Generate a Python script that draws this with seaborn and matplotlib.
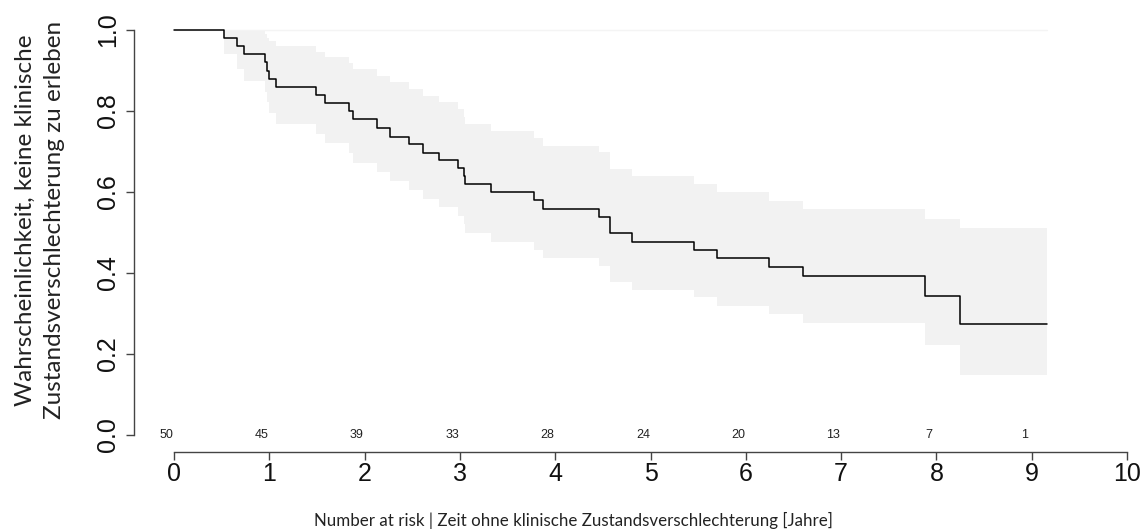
import pandas as pd
import seaborn as sns
import matplotlib.pyplot as plt

# Kaplan-Meier estimate (step after each time)
times = [0, 0.52, 0.66, 0.73, 0.955, 0.98, 1.00, 1.07, 1.49, 1.585, 1.84, 1.88,
         2.13, 2.27, 2.47, 2.61, 2.78, 2.98, 3.04, 3.05, 3.33, 3.78, 3.875, 4.46,
         4.57, 4.81, 5.46, 5.70, 6.24, 6.60, 7.88, 8.25, 9.16]
surv = [1.0, 0.98, 0.96, 0.94, 0.92, 0.90, 0.88, 0.86, 0.84, 0.82, 0.80, 0.78,
        0.757, 0.737, 0.718, 0.697, 0.679, 0.66, 0.64, 0.62, 0.60, 0.58, 0.558, 0.539,
        0.499, 0.477, 0.458, 0.436, 0.415, 0.393, 0.343, 0.274, 0.274]
upper = [1.0, 1.0, 1.0, 1.0, 0.99, 0.98, 0.974, 0.961, 0.946, 0.933, 0.918, 0.903,
         0.887, 0.871, 0.854, 0.838, 0.821, 0.805, 0.785, 0.768, 0.751, 0.733, 0.714, 0.698,
         0.658, 0.64, 0.62, 0.60, 0.579, 0.557, 0.533, 0.51, 0.51]
lower = [1.0, 0.941, 0.903, 0.875, 0.846, 0.821, 0.794, 0.767, 0.743, 0.72, 0.696, 0.672,
         0.649, 0.626, 0.604, 0.582, 0.562, 0.541, 0.52, 0.499, 0.477, 0.457, 0.436, 0.417,
         0.379, 0.358, 0.34, 0.319, 0.298, 0.277, 0.222, 0.148, 0.148]

# Number at risk
risk_times = [0, 1, 2, 3, 4, 5, 6, 7, 8, 9]
n_risk = [50, 45, 39, 33, 28, 24, 20, 13, 7, 1]

x_ticks = [0, 1, 2, 3, 4, 5, 6, 7, 8, 9, 10]
y_ticks = [0.0, 0.2, 0.4, 0.6, 0.8, 1.0]

km_df = pd.DataFrame({'time': times, 'surv': surv, 'upper': upper, 'lower': lower})

sns.set_style('white')
plt.rcParams['font.family'] = ['Liberation Sans', 'DejaVu Sans']

W, H = 1146, 532
fig = plt.figure(figsize=(W / 100, H / 100), dpi=100)
ax = fig.add_axes([174 / W, (H - 435) / H, 953 / W, 405 / H])

# confidence band + faint top line
ax.fill_between(km_df['time'], km_df['lower'], km_df['upper'], step='post',
                color='#f2f2f2', linewidth=0)
ax.plot([km_df['time'].min(), km_df['time'].max()], [max(upper), max(upper)],
        color='#f4f4f4', linewidth=1, clip_on=False)

sns.lineplot(data=km_df, x='time', y='surv', drawstyle='steps-post', color='black',
             linewidth=1.1, ax=ax, clip_on=False)

for t, n in zip(risk_times, n_risk):
    ax.text(t - 0.08, 0.0, str(n), ha='center', va='center', fontsize=9, color='#222222')

# spines first (moving a spine resets the ticks)
for side in ['top', 'right']:
    ax.spines[side].set_visible(False)
ax.spines['left'].set_position(('outward', 40 * 0.72))
ax.spines['bottom'].set_position(('outward', 17 * 0.72))
ax.spines['left'].set_bounds(0, 1)
ax.spines['bottom'].set_bounds(0, 10)
for side in ['left', 'bottom']:
    ax.spines[side].set_color('#444444')
    ax.spines[side].set_linewidth(1)

ax.set_xlim(0, 10)
ax.set_ylim(0, 1)
ax.tick_params(axis='both', which='major', direction='out', length=5.8, width=1,
               color='#444444', labelcolor='#111111', bottom=True, left=True)
ax.tick_params(axis='x', pad=1.5)
ax.tick_params(axis='y', pad=4)
ax.set_xticks(x_ticks)
ax.set_xticklabels([str(v) for v in x_ticks], fontsize=18)
ax.set_yticks(y_ticks)
ax.set_yticklabels([f'{v:.1f}' for v in y_ticks], fontsize=18, rotation=90, va='center')
ax.set_xlabel('')
ax.set_ylabel('')
ax.grid(False)

fig.text(573 / W, 1 - 520 / H,
         'Number at risk | Zeit ohne klinische Zustandsverschlechterung [Jahre]',
         ha='center', va='center', fontsize=12.2, family='Lato', color='#222222')
fig.text(40 / W, 1 - 220 / H,
         'Wahrscheinlichkeit, keine klinische\nZustandsverschlechterung zu erleben',
         ha='center', va='center', rotation=90, fontsize=17.5, family='Lato',
         linespacing=1.45, color='#222222')

fig.savefig('out.png', dpi=100)
